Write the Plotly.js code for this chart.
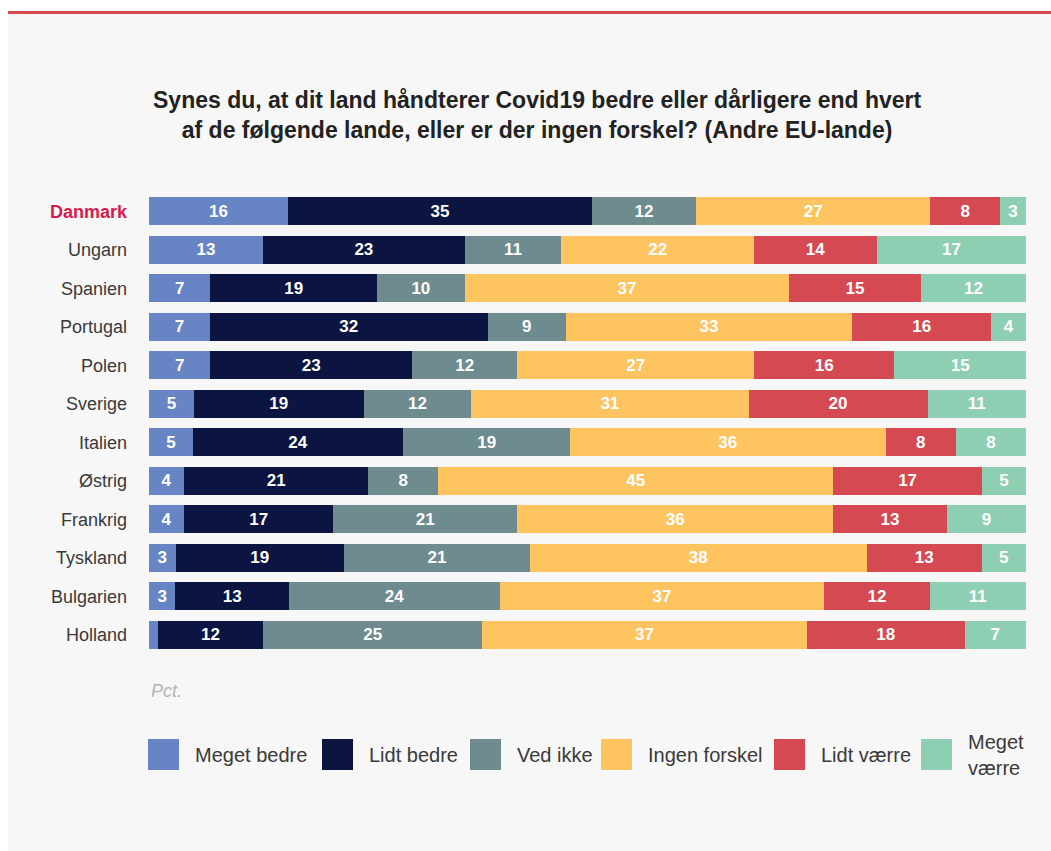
<!DOCTYPE html>
<html>
<head>
<meta charset="utf-8">
<script src="https://cdn.plot.ly/plotly-3.0.1.min.js"></script>
<style>
  html, body { margin: 0; padding: 0; background: #ffffff; width: 1051px; height: 851px; overflow: hidden; }
  #panel { position: absolute; left: 8px; top: 11px; width: 1043px; height: 840px; background: #f6f7f6; border-top: 3px solid #d6474f; box-sizing: border-box; }
  #chart { position: absolute; left: 0; top: 0; width: 1051px; height: 851px; }
</style>
</head>
<body>
<div id="panel"></div>
<div id="chart"></div>
<script>
const countries = ["Danmark", "Ungarn", "Spanien", "Portugal", "Polen", "Sverige", "Italien", "Østrig", "Frankrig", "Tyskland", "Bulgarien", "Holland"];
const seriesNames = ["Meget bedre", "Lidt bedre", "Ved ikke", "Ingen forskel", "Lidt værre", "Meget\nværre"];
const megetBedre   = [16, 13, 7, 7, 7, 5, 5, 4, 4, 3, 3, 1];
const lidtBedre    = [35, 23, 19, 32, 23, 19, 24, 21, 17, 19, 13, 12];
const vedIkke      = [12, 11, 10, 9, 12, 12, 19, 8, 21, 21, 24, 25];
const ingenForskel = [27, 22, 37, 33, 27, 31, 36, 45, 36, 38, 37, 37];
const lidtVaerre   = [8, 14, 15, 16, 16, 20, 8, 17, 13, 13, 12, 18];
const megetVaerre  = [3, 17, 12, 4, 15, 11, 8, 5, 9, 5, 11, 7];
const colors = ["#6784c4", "#0c1541", "#6e8b8f", "#fdc45f", "#d54a52", "#8ecfb3"];
const highlight = "Danmark";
const titleText = "Synes du, at dit land håndterer Covid19 bedre eller dårligere end hvert<br>af de følgende lande, eller er der ingen forskel? (Andre EU-lande)";

const allSeries = [megetBedre, lidtBedre, vedIkke, ingenForskel, lidtVaerre, megetVaerre];

const traces = allSeries.map((vals, i) => ({
  type: "bar",
  orientation: "h",
  name: seriesNames[i],
  y: countries,
  x: vals,
  text: vals.map(String),
  texttemplate: "%{text}",
  textposition: "inside",
  insidetextanchor: "middle",
  textangle: 0,
  textfont: { family: "Liberation Sans, Arial, sans-serif", size: 17, color: "#ffffff", weight: "bold" },
  marker: { color: colors[i], line: { width: 0 } },
  hoverinfo: "skip",
  showlegend: false
}));

// Custom legend (large squares) built from series names/colours
const legendX = [148, 322, 470, 601, 774, 921]; // pixel positions of squares
const plotL = 149, plotW = 877, plotTop = 192, plotH = 462;
const px2x = p => (p - plotL) / plotW;
const py2y = p => (plotTop + plotH - p) / plotH;

const shapes = [];
const annotations = [];
seriesNames.forEach((n, i) => {
  shapes.push({
    type: "rect", xref: "paper", yref: "paper",
    x0: px2x(legendX[i]), x1: px2x(legendX[i] + 31),
    y0: py2y(770), y1: py2y(739),
    fillcolor: colors[i], line: { width: 0 }
  });
  annotations.push({
    xref: "paper", yref: "paper",
    x: px2x(legendX[i] + 45), y: py2y(755),
    xanchor: "left", yanchor: "middle", align: "left",
    text: n.replace("\n", "<br>"), showarrow: false,
    font: { family: "Liberation Sans, Arial, sans-serif", size: 20, color: "#3a3a3a" }
  });
});
annotations.push({
  xref: "paper", yref: "paper",
  x: px2x(149), y: py2y(691),
  xanchor: "left", yanchor: "middle",
  text: "<i>Pct.</i>", showarrow: false,
  font: { family: "Liberation Sans, Arial, sans-serif", size: 18, color: "#b4b4b4" }
});
annotations.push({
  xref: "paper", yref: "paper",
  x: px2x(537), y: py2y(115),
  xanchor: "center", yanchor: "middle", align: "center",
  text: "<b>" + titleText + "</b>", showarrow: false,
  font: { family: "Liberation Sans, Arial, sans-serif", size: 23, color: "#222222" }
});

const tickText = countries.map(c => c === highlight
  ? '<span style="color:#d81b4a;font-weight:bold">' + c + '</span>'
  : c);

const layout = {
  width: 1051,
  height: 851,
  paper_bgcolor: "rgba(0,0,0,0)",
  plot_bgcolor: "rgba(0,0,0,0)",
  barmode: "stack",
  barnorm: "percent",
  bargap: 0.27,
  margin: { l: plotL, r: 1051 - plotL - plotW, t: plotTop, b: 851 - plotTop - plotH, pad: 0 },
  xaxis: { range: [0, 100], showgrid: false, zeroline: false, showticklabels: false, showline: false, fixedrange: true },
  yaxis: {
    type: "category",
    categoryorder: "array",
    categoryarray: countries,
    autorange: "reversed",
    tickmode: "array",
    tickvals: countries,
    ticktext: tickText,
    ticks: "",
    ticklabelstandoff: 21,
    showgrid: false, zeroline: false, showline: false,
    tickfont: { family: "Liberation Sans, Arial, sans-serif", size: 18, color: "#3a3a3a" },
    fixedrange: true
  },
  uniformtext: { mode: "hide", minsize: 15 },
  shapes: shapes,
  annotations: annotations,
  showlegend: false
};

Plotly.newPlot("chart", traces, layout, { displayModeBar: false, staticPlot: true });
</script>
</body>
</html>
